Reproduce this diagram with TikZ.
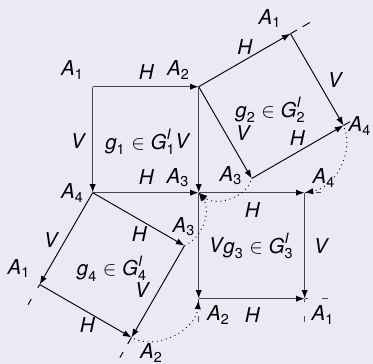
\documentclass[tikz,border=0pt]{standalone}
\usepackage{amsmath}
\usepackage{fontspec}
\setmainfont{TeX Gyre Heros}
\usetikzlibrary{arrows.meta,calc}
\definecolor{bgc}{RGB}{234,234,246}
\newcommand{\lA}[1]{$\text{\itshape A}_{\text{#1}}$}
\newcommand{\lgrp}[1]{$\text{\itshape g}_{\text{#1}}\in\text{\itshape G}^{\text{\itshape I}}_{\text{#1}}$}
\begin{document}
\begin{tikzpicture}[
  tip/.style={-{Latex[length=4.6pt,width=3.4pt,color=black]}},
  thk/.style={draw=black!72,line width=0.8pt,tip},
  thn/.style={draw=black,line width=0.5pt,tip},
  dotarc/.style={draw=black,line width=0.5pt,dotted,tip},
  extg/.style={draw=black!70,line width=0.6pt},
  extb/.style={draw=black,line width=0.5pt},
  lab/.style={inner sep=0pt,font=\fontsize{11}{13}\selectfont}
]
\fill[bgc] (-1.749,-3.232) rectangle (5.289,3.636);
\useasboundingbox (-1.749,-3.232) rectangle (5.289,3.636);

% corners
\coordinate (s1A4) at (0,0);
\coordinate (s1A3) at (2,0);
\coordinate (s1A1) at (0,2);
\coordinate (s1A2) at (2,2);
\coordinate (s2A2) at (2,2);
\coordinate (s2A1) at ($(s2A2)+(30:2)$);
\coordinate (s2A3) at ($(s2A2)+(-60:2)$);
\coordinate (s2A4) at ($(s2A1)+(-60:2)$);
\coordinate (s3A3) at (2,0);
\coordinate (s3A4) at (4,0);
\coordinate (s3A2) at (2,-2);
\coordinate (s3A1) at (4,-2);
\coordinate (s4A4) at (0,0);
\coordinate (s4A3) at (-30:2);
\coordinate (s4A1) at (-120:2);
\coordinate (s4A2) at ($(s4A3)+(-120:2)$);

% extension ends
\path (s2A1) ++(30:12pt) coordinate (x1);
\path (s2A4) ++(30:4pt) coordinate (x2);
\path (s3A4) ++(0:9pt) coordinate (x3);
\path (s3A1) ++(0:12.5pt) coordinate (x4);
\path (s3A1) ++(-90:12.5pt) coordinate (x5);
\path (s3A2) ++(-90:12.5pt) coordinate (x6);
\path (s4A1) ++(-120:12.5pt) coordinate (x7);
\path (s4A2) ++(-120:12.5pt) coordinate (x8);

\draw[extb,dash pattern=on 4pt off 3.5pt on 4.5pt off 10pt] (s2A1) -- (x1);
\draw[extb] (s2A4) -- (x2);
\draw[extg,dash pattern=on 2pt off 4pt on 3pt off 10pt] (s3A4) -- (x3);
\draw[extg,dash pattern=on 2pt off 7.5pt on 3pt off 10pt] (s3A1) -- (x4);
\draw[extg,dash pattern=on 2pt off 7.5pt on 3pt off 10pt] (s3A1) -- (x5);
\draw[extg,dash pattern=on 2pt off 7.5pt on 3pt off 10pt] (s3A2) -- (x6);
\draw[extb,dash pattern=on 2pt off 7pt on 3.5pt off 10pt] (s4A1) -- (x7);
\draw[extb,dash pattern=on 4pt off 5pt on 3.5pt off 10pt] (s4A2) -- (x8);

% square 2
\draw[thn] (s2A2) -- (s2A1);
\draw[thn] (s2A1) -- (s2A4);
\draw[thn] (s2A2) -- (s2A3);
\draw[thn] (s2A3) -- (s2A4);
% square 4
\draw[thn] (s4A4) -- (s4A3);
\draw[thn] (s4A4) -- (s4A1);
\draw[thn] (s4A1) -- (s4A2);
\draw[thn] (s4A3) -- (s4A2);
% square 1
\draw[thk] (s1A1) -- (s1A2);
\draw[thk] (s1A1) -- (s1A4);
\draw[thk] (s1A4) -- (s1A3);
\draw[thk] (s1A2) -- (s1A3);
% square 3
\draw[thk] (s3A3) -- (s3A4);
\draw[thk] (s3A3) -- (s3A2);
\draw[thk] (s3A2) -- (s3A1);
\draw[thk] (s3A4) -- (s3A1);

% dotted arcs
\draw[dotarc,shorten <=1.5pt] (s2A4) to[bend left=50] (s3A4);
\draw[dotarc,shorten <=1.5pt] (s2A3) to[bend left=55] (s3A3);
\draw[dotarc] (s4A3) to[bend right=50] (s3A3);
\draw[dotarc,shorten <=1.5pt,shorten >=1pt] (s4A2) to[bend right=55] (s3A2);

% labels square 1
\node[lab] (a1) at (-0.381,2.315) {\lA{1}};
\node[lab] (h1) at (1.015,2.277) {\textit{H}};
\node[lab] (a2) at (1.619,2.315) {\lA{2}};
\node[lab] (v1) at (-0.268,0.975) {\textit{V}};
\node[lab] (g1) at (0.90,0.957) {\lgrp{1}};
\node[lab] (v2) at (1.70,0.975) {\textit{V}};
\node[lab] (h2) at (1.015,0.287) {\textit{H}};
\node[lab] (a3) at (1.609,0.277) {\lA{3}};
\node[lab] (a4) at (-0.381,-0.006) {\lA{4}};
% labels square 2
\node[lab] (b1) at (3.345,3.287) {\lA{1}};
\node[lab] (h3) at (2.874,2.749) {\textit{H}};
\node[lab] (v3) at (4.581,2.126) {\textit{V}};
\node[lab] (g2) at (3.355,1.560) {\lgrp{2}};
\node[lab] (v4) at (2.845,1.126) {\textit{V}};
\node[lab] (h4) at (3.864,1.032) {\textit{H}};
\node[lab] (b4) at (5.043,1.258) {\lA{4}};
\node[lab] (b3) at (2.609,0.315) {\lA{3}};
% labels square 3
\node[lab] (c4) at (4.364,0.277) {\lA{4}};
\node[lab] (h5) at (3.015,-0.326) {\textit{H}};
\node[lab] (v5) at (2.336,-0.996) {\textit{V}};
\node[lab] (g3) at (3.128,-1.006) {\lgrp{3}};
\node[lab] (v6) at (4.317,-1.006) {\textit{V}};
\node[lab] (c2) at (2.374,-2.308) {\lA{2}};
\node[lab] (h6) at (3.015,-2.308) {\textit{H}};
\node[lab] (c1) at (4.345,-2.308) {\lA{1}};
% labels square 4
\node[lab] (v7) at (-0.777,-0.892) {\textit{V}};
\node[lab] (h7) at (0.883,-0.789) {\textit{H}};
\node[lab] (d3) at (1.723,-0.647) {\lA{3}};
\node[lab] (d1) at (-1.391,-1.430) {\lA{1}};
\node[lab] (g4) at (0.364,-1.430) {\lgrp{4}};
\node[lab] (v8) at (0.940,-1.845) {\textit{V}};
\node[lab] (h8) at (-0.098,-2.506) {\textit{H}};
\node[lab] (d2) at (1.109,-3.025) {\lA{2}};
\end{tikzpicture}
\end{document}
